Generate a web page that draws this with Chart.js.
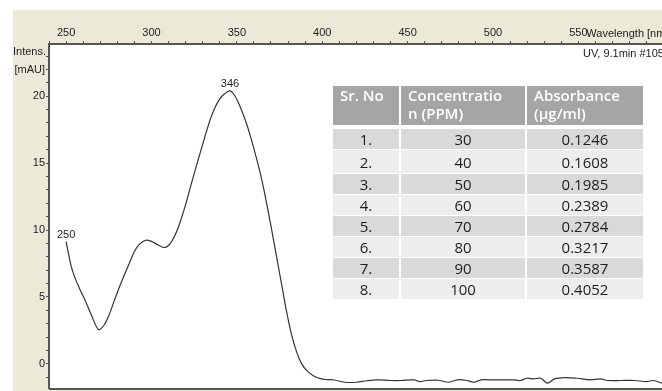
<!DOCTYPE html>
<html>
<head>
<meta charset="utf-8">
<script src="https://cdn.jsdelivr.net/npm/chart.js@4.4.1/dist/chart.umd.min.js"></script>
<style>
  html, body { margin: 0; padding: 0; background: #fff; }
  body { width: 662px; height: 391px; position: relative; overflow: hidden; }
  #frame { position: absolute; left: 13px; top: 10px; width: 649px; height: 381px; background: #ece9d8; }
  #uvChart { display: block; }
  #tbl {
    position: absolute; left: 331px; top: 85px;
    border-collapse: separate; border-spacing: 2px 1px;
    font-family: "Open Sans", "Noto Sans", sans-serif; font-size: 15px;
  }
  #tbl th {
    background: #a5a5a5; color: #fff; font-weight: 600; text-align: left;
    vertical-align: top; padding: 0 0 0 7px; height: 39px; line-height: 18px;
    border-bottom: 3px solid #fff; overflow: hidden;
  }
  #tbl td { padding: 0; height: 20px; line-height: 20px; text-align: center; color: #1e1e1e; }
  #tbl tbody tr:nth-child(odd) td { background: #d9d9d9; }
  #tbl tbody tr:nth-child(even) td { background: #ededed; }
  #tbl tbody tr:nth-child(2) td { height: 23px; }
  #tbl .c1 { width: 66px; }
  #tbl .c2 { width: 124px; }
  #tbl .c3 { width: 116px; }
  #tbl th.c1 { width: 59px; }
  #tbl th.c2 { width: 117px; }
  #tbl th.c3 { width: 109px; }
</style>
</head>
<body>
<div id="frame"><canvas id="uvChart" width="649" height="381"></canvas></div>
<table id="tbl">
  <thead>
    <tr><th class="c1">Sr. No</th><th class="c2">Concentratio<br>n (PPM)</th><th class="c3">Absorbance<br>(µg/ml)</th></tr>
  </thead>
  <tbody id="tblBody"></tbody>
</table>
<script>
// UV spectrum
const wavelength = [250, 251, 253, 255, 258, 261, 265, 269, 272, 275, 279, 283, 287, 290, 293, 297,
  300, 303, 307, 310, 313, 316, 320, 323, 327, 330, 334, 337, 340, 343, 346, 349, 352, 355, 358,
  361, 364, 367, 370, 373, 376, 379, 382, 385, 388, 391, 395, 399, 403, 407, 413, 420, 426, 432,
  440, 446, 454, 457, 461, 468, 474, 479, 484, 489, 493, 500, 506, 512, 516, 520, 524, 528, 532,
  536, 542, 549, 557, 563, 567, 575, 583, 590, 594, 599];
const intensity = [9.13, 8.5, 7.3, 6.5, 5.6, 4.8, 3.6, 2.55, 2.85, 3.6, 5.0, 6.3, 7.5, 8.4, 8.95, 9.25,
  9.15, 8.95, 8.7, 8.85, 9.4, 10.3, 11.9, 13.3, 15.1, 16.4, 18.1, 19.1, 19.8, 20.2, 20.4, 20.0, 19.2, 18.2, 17.0,
  15.6, 14.1, 12.3, 10.3, 8.2, 6.1, 4.0, 2.2, 0.9, 0.0, -0.5, -0.9, -1.1, -1.17, -1.2, -1.37, -1.37, -1.26, -1.19,
  -1.24, -1.24, -1.19, -1.32, -1.24, -1.22, -1.37, -1.19, -1.22, -1.37, -1.19, -1.2, -1.19, -1.19, -1.24, -1.07, -1.12, -1.07, -1.44,
  -1.12, -1.02, -1.07, -1.19, -1.12, -1.24, -1.24, -1.24, -1.32, -1.24, -1.44];
const peakLabels = [250, 346];

const xTickLabels = [250, 300, 350, 400, 450, 500, 550];
const yTickLabels = [0, 5, 10, 15, 20];

// calibration table
const srNo = ['1.', '2.', '3.', '4.', '5.', '6.', '7.', '8.'];
const concentration = [30, 40, 50, 60, 70, 80, 90, 100];
const absorbance = ['0.1246', '0.1608', '0.1985', '0.2389', '0.2784', '0.3217', '0.3587', '0.4052'];

const tbody = document.getElementById('tblBody');
srNo.forEach((s, i) => {
  const tr = document.createElement('tr');
  tr.innerHTML = `<td class="c1">${s}</td><td class="c2">${concentration[i]}</td><td class="c3">${absorbance[i]}</td>`;
  tbody.appendChild(tr);
});

const axisFont = { family: '"Liberation Sans", Arial, sans-serif', size: 11 };
const axisFontCss = `11px ${axisFont.family}`;

const decorations = {
  id: 'decorations',
  beforeDraw(chart) {
    const { ctx, chartArea: a } = chart;
    ctx.save();
    ctx.fillStyle = '#fff';
    ctx.fillRect(a.left, a.top, a.right - a.left, a.bottom - a.top);
    ctx.restore();
  },
  afterDraw(chart) {
    const { ctx, chartArea: a, scales: { x, y } } = chart;
    ctx.save();
    // bottom frame line
    ctx.strokeStyle = '#555';
    ctx.lineWidth = 2;
    ctx.beginPath();
    ctx.moveTo(a.left, a.bottom + 1);
    ctx.lineTo(a.right, a.bottom + 1);
    ctx.stroke();

    ctx.font = axisFontCss;
    ctx.fillStyle = '#222';
    ctx.textBaseline = 'alphabetic';

    // peak labels
    ctx.textAlign = 'center';
    peakLabels.forEach(w => {
      const i = wavelength.indexOf(w);
      ctx.fillText(String(w), x.getPixelForValue(w), y.getPixelForValue(intensity[i]) - 4);
    });

    // axis titles and run info
    ctx.textAlign = 'right';
    ctx.fillText('Intens.', 33, 45);
    ctx.fillText('[mAU]', 32, 63);
    ctx.textAlign = 'left';
    ctx.fillText('Wavelength [nm]', x.getPixelForValue(550) + 8, 27);
    ctx.fillText('UV, 9.1min #10593', 570, 47);
    ctx.restore();
  }
};

new Chart(document.getElementById('uvChart'), {
  type: 'scatter',
  data: {
    datasets: [{
      data: wavelength.map((w, i) => ({ x: w, y: intensity[i] })),
      showLine: true,
      borderColor: '#333',
      borderWidth: 1.2,
      pointRadius: 0,
      tension: 0.3
    }]
  },
  options: {
    responsive: false,
    devicePixelRatio: 1,
    animation: false,
    layout: { padding: { top: 0, left: 0, right: 0, bottom: 3 } },
    plugins: { legend: { display: false }, tooltip: { enabled: false } },
    scales: {
      x: {
        type: 'linear',
        position: 'top',
        min: 240,
        max: 599,
        afterFit: s => { s.height = 34; s.paddingLeft = 0; s.paddingRight = 0; },
        border: { color: '#555', width: 2 },
        grid: { drawOnChartArea: false, tickLength: 3, color: '#555' },
        ticks: {
          stepSize: 10,
          includeBounds: false,
          autoSkip: false,
          maxRotation: 0,
          padding: 1,
          color: '#222',
          font: axisFont,
          callback: v => xTickLabels.includes(v) ? String(v) : ''
        }
      },
      y: {
        type: 'linear',
        position: 'left',
        min: -1.8,
        max: 23.9,
        afterFit: s => { s.width = 36; s.paddingTop = 0; s.paddingBottom = 0; },
        border: { color: '#555', width: 2 },
        grid: { drawOnChartArea: false, tickLength: 3, color: '#555' },
        ticks: {
          stepSize: 1,
          includeBounds: false,
          autoSkip: false,
          padding: 1,
          color: '#222',
          font: axisFont,
          callback: v => yTickLabels.includes(v) ? String(v) : ''
        }
      }
    }
  },
  plugins: [decorations]
});
</script>
</body>
</html>
